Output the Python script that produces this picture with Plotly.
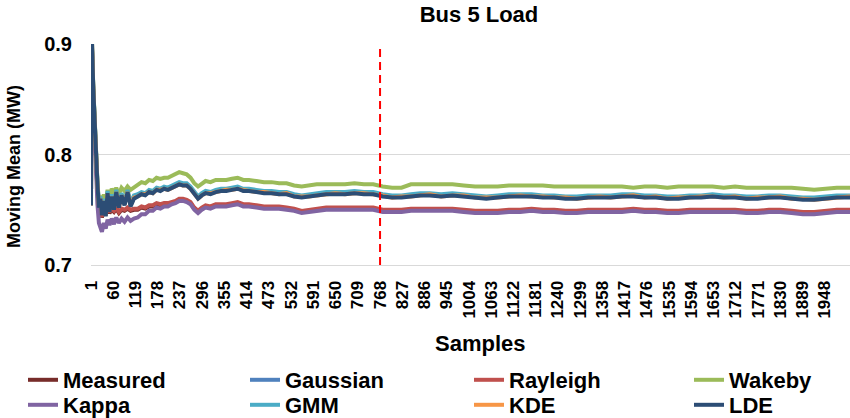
import plotly.graph_objects as go

# ---------------- data ----------------
SAMPLES = [
    1, 2, 4, 7, 10, 14, 18, 22, 26, 30,
    35, 40, 45, 50, 56, 62, 68, 75, 82, 90,
    98, 106, 115, 125, 135, 145, 155, 165, 175, 185,
    195, 205, 215, 225, 235, 245, 255, 265, 275, 285,
    295, 305, 318, 332, 346, 360, 375, 390, 405, 420,
    440, 460, 480, 500, 520, 540, 560, 580, 600, 625,
    650, 675, 700, 725, 750, 775, 800, 825, 850, 875,
    900, 930, 960, 990, 1020, 1050, 1080, 1110, 1140, 1170,
    1200, 1230, 1260, 1290, 1320, 1350, 1380, 1410, 1440, 1470,
    1500, 1530, 1560, 1590, 1620, 1650, 1680, 1710, 1740, 1770,
    1800, 1830, 1860, 1890, 1920, 1950, 1980, 2015,
]

MEASURED = [
    0.754, 0.926, 0.891, 0.856, 0.826, 0.791, 0.768, 0.747, 0.751, 0.743,
    0.749, 0.745, 0.751, 0.747, 0.750, 0.748, 0.751, 0.747, 0.750, 0.749,
    0.751, 0.749, 0.750, 0.750, 0.752, 0.751, 0.753, 0.753, 0.755, 0.754,
    0.755, 0.755, 0.756, 0.757, 0.759, 0.759, 0.758, 0.756, 0.751, 0.748,
    0.751, 0.753, 0.752, 0.754, 0.754, 0.754, 0.755, 0.756, 0.754, 0.754,
    0.753, 0.752, 0.752, 0.752, 0.751, 0.750, 0.748, 0.749, 0.750, 0.751,
    0.751, 0.751, 0.751, 0.751, 0.751, 0.749, 0.749, 0.749, 0.750, 0.750,
    0.750, 0.750, 0.750, 0.749, 0.748, 0.748, 0.748, 0.749, 0.749, 0.750,
    0.749, 0.749, 0.748, 0.748, 0.749, 0.749, 0.749, 0.749, 0.750, 0.749,
    0.749, 0.748, 0.748, 0.749, 0.749, 0.749, 0.749, 0.749, 0.748, 0.748,
    0.749, 0.749, 0.748, 0.747, 0.747, 0.748, 0.749, 0.749,
]

GAUSSIAN = [
    0.754, 0.930, 0.895, 0.860, 0.831, 0.796, 0.774, 0.753, 0.761, 0.746,
    0.759, 0.745, 0.766, 0.749, 0.763, 0.751, 0.767, 0.753, 0.764, 0.755,
    0.767, 0.754, 0.762, 0.763, 0.765, 0.764, 0.767, 0.766, 0.769, 0.768,
    0.770, 0.769, 0.771, 0.772, 0.774, 0.773, 0.773, 0.770, 0.765, 0.761,
    0.764, 0.766, 0.765, 0.767, 0.768, 0.768, 0.769, 0.770, 0.768, 0.768,
    0.767, 0.766, 0.766, 0.765, 0.765, 0.763, 0.762, 0.763, 0.764, 0.765,
    0.765, 0.765, 0.766, 0.765, 0.765, 0.763, 0.762, 0.762, 0.763, 0.764,
    0.764, 0.763, 0.764, 0.763, 0.762, 0.761, 0.762, 0.763, 0.763, 0.763,
    0.762, 0.762, 0.761, 0.761, 0.762, 0.762, 0.762, 0.763, 0.763, 0.762,
    0.762, 0.761, 0.761, 0.762, 0.762, 0.763, 0.762, 0.762, 0.761, 0.761,
    0.762, 0.762, 0.761, 0.760, 0.760, 0.761, 0.762, 0.762,
]

RAYLEIGH = [
    0.754, 0.925, 0.890, 0.855, 0.825, 0.790, 0.768, 0.748, 0.752, 0.744,
    0.750, 0.746, 0.752, 0.748, 0.751, 0.749, 0.752, 0.748, 0.751, 0.750,
    0.752, 0.750, 0.751, 0.751, 0.753, 0.752, 0.754, 0.754, 0.756, 0.755,
    0.756, 0.756, 0.757, 0.758, 0.760, 0.760, 0.759, 0.757, 0.752, 0.749,
    0.752, 0.754, 0.753, 0.755, 0.755, 0.755, 0.756, 0.757, 0.755, 0.755,
    0.754, 0.753, 0.753, 0.753, 0.752, 0.751, 0.749, 0.750, 0.751, 0.752,
    0.752, 0.752, 0.752, 0.752, 0.752, 0.750, 0.750, 0.750, 0.751, 0.751,
    0.751, 0.751, 0.751, 0.750, 0.749, 0.749, 0.749, 0.750, 0.750, 0.751,
    0.750, 0.750, 0.749, 0.749, 0.750, 0.750, 0.750, 0.750, 0.751, 0.750,
    0.750, 0.749, 0.749, 0.750, 0.750, 0.750, 0.750, 0.750, 0.749, 0.749,
    0.750, 0.750, 0.749, 0.748, 0.748, 0.749, 0.750, 0.750,
]

WAKEBY = [
    0.754, 0.930, 0.897, 0.862, 0.832, 0.798, 0.776, 0.756, 0.763, 0.752,
    0.764, 0.757, 0.768, 0.760, 0.769, 0.765, 0.770, 0.764, 0.770, 0.767,
    0.771, 0.768, 0.770, 0.772, 0.775, 0.774, 0.777, 0.776, 0.779, 0.778,
    0.779, 0.779, 0.781, 0.782, 0.784, 0.783, 0.782, 0.779, 0.774, 0.771,
    0.774, 0.776, 0.775, 0.777, 0.777, 0.777, 0.778, 0.779, 0.777, 0.777,
    0.776, 0.775, 0.775, 0.774, 0.774, 0.772, 0.771, 0.772, 0.773, 0.773,
    0.773, 0.773, 0.774, 0.773, 0.773, 0.771, 0.770, 0.770, 0.773, 0.773,
    0.773, 0.773, 0.773, 0.772, 0.771, 0.771, 0.771, 0.772, 0.772, 0.772,
    0.772, 0.771, 0.771, 0.771, 0.771, 0.771, 0.771, 0.771, 0.770, 0.771,
    0.771, 0.770, 0.771, 0.771, 0.771, 0.771, 0.770, 0.771, 0.770, 0.770,
    0.770, 0.770, 0.770, 0.769, 0.768, 0.769, 0.770, 0.770,
]

KAPPA = [
    0.754, 0.925, 0.888, 0.852, 0.820, 0.783, 0.755, 0.738, 0.733, 0.730,
    0.738, 0.733, 0.741, 0.736, 0.742, 0.737, 0.743, 0.738, 0.742, 0.739,
    0.743, 0.740, 0.742, 0.743, 0.746, 0.746, 0.749, 0.749, 0.752, 0.751,
    0.753, 0.753, 0.755, 0.756, 0.758, 0.758, 0.757, 0.755, 0.750, 0.747,
    0.750, 0.752, 0.751, 0.753, 0.753, 0.753, 0.754, 0.755, 0.753, 0.753,
    0.752, 0.751, 0.751, 0.751, 0.750, 0.749, 0.747, 0.748, 0.749, 0.750,
    0.750, 0.750, 0.750, 0.750, 0.750, 0.748, 0.748, 0.748, 0.749, 0.749,
    0.749, 0.749, 0.749, 0.748, 0.747, 0.747, 0.747, 0.748, 0.748, 0.749,
    0.748, 0.748, 0.747, 0.747, 0.748, 0.748, 0.748, 0.748, 0.749, 0.748,
    0.748, 0.747, 0.747, 0.748, 0.748, 0.748, 0.748, 0.748, 0.747, 0.747,
    0.748, 0.748, 0.747, 0.746, 0.746, 0.747, 0.748, 0.748,
]

GMM = [
    0.754, 0.930, 0.896, 0.861, 0.832, 0.797, 0.775, 0.755, 0.762, 0.748,
    0.760, 0.747, 0.767, 0.751, 0.764, 0.753, 0.768, 0.755, 0.765, 0.757,
    0.768, 0.756, 0.763, 0.764, 0.766, 0.765, 0.768, 0.767, 0.770, 0.769,
    0.771, 0.770, 0.772, 0.773, 0.775, 0.774, 0.774, 0.771, 0.766, 0.762,
    0.765, 0.767, 0.766, 0.768, 0.769, 0.769, 0.770, 0.771, 0.769, 0.769,
    0.768, 0.767, 0.767, 0.766, 0.766, 0.764, 0.763, 0.764, 0.765, 0.766,
    0.766, 0.766, 0.767, 0.766, 0.766, 0.764, 0.763, 0.763, 0.764, 0.765,
    0.765, 0.764, 0.765, 0.764, 0.763, 0.762, 0.763, 0.764, 0.764, 0.764,
    0.763, 0.763, 0.762, 0.762, 0.763, 0.763, 0.763, 0.764, 0.764, 0.763,
    0.763, 0.762, 0.762, 0.763, 0.763, 0.764, 0.763, 0.763, 0.762, 0.762,
    0.763, 0.763, 0.762, 0.761, 0.761, 0.762, 0.763, 0.763,
]

KDE = [
    0.754, 0.930, 0.895, 0.860, 0.830, 0.795, 0.773, 0.753, 0.760, 0.746,
    0.758, 0.745, 0.765, 0.749, 0.762, 0.751, 0.766, 0.753, 0.763, 0.755,
    0.766, 0.754, 0.761, 0.762, 0.764, 0.764, 0.766, 0.765, 0.768, 0.768,
    0.769, 0.768, 0.770, 0.772, 0.773, 0.772, 0.772, 0.769, 0.765, 0.760,
    0.763, 0.765, 0.765, 0.766, 0.767, 0.768, 0.768, 0.769, 0.768, 0.767,
    0.766, 0.766, 0.765, 0.764, 0.765, 0.762, 0.762, 0.762, 0.763, 0.764,
    0.765, 0.764, 0.765, 0.765, 0.764, 0.763, 0.761, 0.762, 0.762, 0.763,
    0.764, 0.762, 0.763, 0.763, 0.761, 0.761, 0.761, 0.762, 0.763, 0.762,
    0.762, 0.761, 0.761, 0.760, 0.761, 0.762, 0.761, 0.762, 0.763, 0.761,
    0.762, 0.760, 0.761, 0.761, 0.762, 0.762, 0.761, 0.762, 0.760, 0.761,
    0.761, 0.762, 0.760, 0.760, 0.759, 0.760, 0.761, 0.762,
]

LDE = [
    0.754, 0.930, 0.895, 0.860, 0.830, 0.795, 0.773, 0.752, 0.760, 0.745,
    0.758, 0.744, 0.765, 0.748, 0.762, 0.750, 0.766, 0.752, 0.763, 0.754,
    0.766, 0.753, 0.760, 0.762, 0.764, 0.763, 0.766, 0.765, 0.768, 0.767,
    0.769, 0.768, 0.770, 0.771, 0.773, 0.772, 0.772, 0.769, 0.764, 0.760,
    0.763, 0.765, 0.764, 0.766, 0.767, 0.767, 0.768, 0.769, 0.767, 0.767,
    0.766, 0.765, 0.765, 0.764, 0.764, 0.762, 0.761, 0.762, 0.763, 0.764,
    0.764, 0.764, 0.765, 0.764, 0.764, 0.762, 0.761, 0.761, 0.762, 0.763,
    0.763, 0.762, 0.763, 0.762, 0.761, 0.760, 0.761, 0.762, 0.762, 0.762,
    0.761, 0.761, 0.760, 0.760, 0.761, 0.761, 0.761, 0.762, 0.762, 0.761,
    0.761, 0.760, 0.760, 0.761, 0.761, 0.762, 0.761, 0.761, 0.760, 0.760,
    0.761, 0.761, 0.760, 0.759, 0.759, 0.760, 0.761, 0.761,
]

SERIES_NAMES = ["Measured", "Gaussian", "Rayleigh", "Wakeby",
                "Kappa", "GMM", "KDE", "LDE"]
SERIES_VALUES = [MEASURED, GAUSSIAN, RAYLEIGH, WAKEBY, KAPPA, GMM, KDE, LDE]
SERIES_COLORS = ["#772C2A", "#4F81BD", "#C0504D", "#9BBB59",
                 "#8064A2", "#4BACC6", "#F79646", "#2C4D75"]

X_TICKS = [1, 60, 119, 178, 237, 296, 355, 414, 473, 532, 591, 650, 709,
           768, 827, 886, 945, 1004, 1063, 1122, 1181, 1240, 1299, 1358,
           1417, 1476, 1535, 1594, 1653, 1712, 1771, 1830, 1889, 1948]
Y_TICKS = [0.7, 0.8, 0.9]
Y_TICK_LABELS = ["0.7", "0.8", "0.9"]
SPLIT_SAMPLE = 768
X_RANGE = [1, 2015]
Y_RANGE = [0.7, 0.9]

# legend slots (container coordinates): left edge px, centre row px
LEGEND_SLOTS = [(23, 380), (245, 380), (469, 380), (689, 380),
                (23, 405), (245, 405), (469, 405), (689, 405)]

W, H = 850, 418
FONT = "Liberation Sans, Arial, sans-serif"

fig = go.Figure()
layout_legends = {}
for i, (name, vals, col) in enumerate(zip(SERIES_NAMES, SERIES_VALUES, SERIES_COLORS)):
    key = "legend" if i == 0 else f"legend{i + 1}"
    fig.add_trace(go.Scatter(
        x=SAMPLES, y=vals, mode="lines", name=name,
        line=dict(color=col, width=4),
        legend=key, showlegend=True, hoverinfo="x+y+name",
    ))
    lx, ly = LEGEND_SLOTS[i]
    layout_legends[key] = dict(
        x=lx / W, y=1 - ly / H, xref="container", yref="container",
        xanchor="left", yanchor="middle", bgcolor="rgba(0,0,0,0)",
        orientation="h",
        font=dict(family=FONT, size=22, color="#000000", weight="bold"),
        borderwidth=0,
    )

fig.update_layout(**layout_legends)

fig.add_shape(type="line", xref="x", yref="paper",
              x0=SPLIT_SAMPLE, x1=SPLIT_SAMPLE, y0=0, y1=1,
              line=dict(color="#FF0000", width=2, dash="8px,5px"))

fig.update_layout(
    width=W, height=H,
    margin=dict(l=91, r=0, t=44, b=153, autoexpand=False),
    paper_bgcolor="white", plot_bgcolor="white",
    title=dict(text="Bus 5 Load", x=479 / W, xanchor="center",
               y=1 - 14 / H, yanchor="middle", xref="container", yref="container",
               font=dict(family=FONT, size=22, color="#000000", weight="bold")),
    xaxis=dict(range=X_RANGE, tickmode="array", tickvals=X_TICKS,
               ticktext=[str(v) for v in X_TICKS], tickangle=-90,
               tickfont=dict(family=FONT, size=17, color="#000000", weight="bold"),
               showgrid=False, zeroline=False, showline=True,
               linecolor="#D9D9D9", linewidth=1, ticks="",
               ticklabelstandoff=8, automargin=False),
    yaxis=dict(range=Y_RANGE, tickmode="array", tickvals=Y_TICKS,
               ticktext=Y_TICK_LABELS,
               tickfont=dict(family=FONT, size=20, color="#000000", weight="bold"),
               showgrid=True, gridcolor="#D9D9D9", gridwidth=1,
               zeroline=False, showline=False, ticks="",
               ticklabelstandoff=18, automargin=False),
    annotations=[
        dict(text="Samples", xref="paper", yref="paper",
             x=(480 - 91) / 759, y=-(343 - 265) / 221,
             xanchor="center", yanchor="middle", showarrow=False,
             font=dict(family=FONT, size=22, color="#000000", weight="bold")),
        dict(text="Moving Mean (MW)", xref="paper", yref="paper",
             x=-(91 - 14) / 759, y=(265 - 167) / 221, textangle=-90,
             xanchor="center", yanchor="middle", showarrow=False,
             font=dict(family=FONT, size=18, color="#000000", weight="bold")),
    ],
)

fig.write_html("out.html")
